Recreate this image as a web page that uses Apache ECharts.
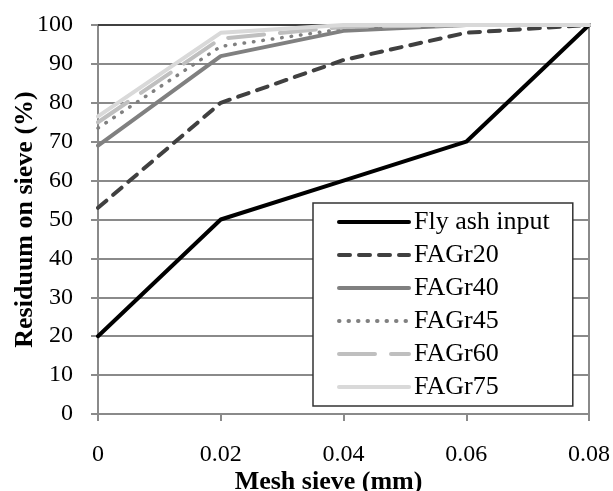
<!DOCTYPE html>
<html>
<head>
<meta charset="utf-8">
<script src="https://cdn.jsdelivr.net/npm/echarts@6/dist/echarts.min.js"></script>
<style>
  html, body { margin: 0; padding: 0; background: #fff; }
  #main { width: 613px; height: 491px; }
</style>
</head>
<body>
<div id="main"></div>
<script>
// mesh sieve sizes (mm)
const meshSizes = [0, 0.02, 0.04, 0.06, 0.08]
const xTickLabels = ['0', '0.02', '0.04', '0.06', '0.08']

// residuum on sieve (%)
const flyAshInput = [20, 50, 60, 70, 100]
const fagr20 = [53, 80, 91, 98, 100]
const fagr40 = [69, 92, 98.5, 100, 100]
const fagr45 = [73.5, 94.5, 99, 100, 100]
const fagr60 = [75, 96.5, 99.5, 100, 100]
const fagr75 = [76.5, 98, 100, 100, 100]

const seriesNames = ['Fly ash input', 'FAGr20', 'FAGr40', 'FAGr45', 'FAGr60', 'FAGr75']

const font = "'Liberation Serif', 'Times New Roman', serif"

function pairs (values) {
  const out = []
  for (let i = 0; i < meshSizes.length; i++) {
    out.push([meshSizes[i], values[i]])
  }
  return out
}

function lineSeries (name, values, color, width, type) {
  return {
    name: name,
    type: 'line',
    data: pairs(values),
    symbol: 'none',
    showSymbol: false,
    lineStyle: { color: color, width: width, type: type, cap: 'round', join: 'round' },
    itemStyle: { color: color }
  }
}

const chart = echarts.init(document.getElementById('main'))
const option = {
  animation: false,
  grid: {
    left: 98,
    right: 24,
    top: 25,
    bottom: 77,
    outerBoundsMode: 'none',
    show: true,
    borderColor: '#8a8a8a',
    borderWidth: 2
  },
  legend: {
    data: seriesNames,
    orient: 'vertical',
    left: 313,
    top: 203,
    itemWidth: 70,
    itemHeight: 14,
    itemGap: 7,
    padding: [6, 23, 6, 24],
    backgroundColor: '#fff',
    borderColor: '#333',
    borderWidth: 1.5,
    itemStyle: { color: 'rgba(0,0,0,0)', borderWidth: 0 },
    lineStyle: { width: 4 },
    textStyle: { fontFamily: font, fontSize: 26, color: '#000' }
  },
  xAxis: [
    {
      type: 'value',
      min: 0,
      max: 0.08,
      interval: 0.02,
      name: 'Mesh sieve (mm)',
      nameLocation: 'middle',
      nameGap: 55,
      nameMoveOverlap: false,
      nameTextStyle: { fontFamily: font, fontSize: 26, fontWeight: 'bold', color: '#000', padding: [0, 30, 0, 0] },
      axisLine: { show: true, lineStyle: { color: '#8a8a8a', width: 2 } },
      axisTick: { show: true, length: 7, lineStyle: { color: '#8a8a8a', width: 2 } },
      axisLabel: {
        margin: 29,
        fontFamily: font,
        fontSize: 24,
        color: '#000',
        formatter: function (v) { return xTickLabels[Math.round(v / 0.02)] }
      },
      splitLine: { show: false }
    },
    {
      type: 'value',
      position: 'top',
      min: 0,
      max: 0.08,
      axisLine: { show: true, lineStyle: { color: '#404040', width: 2 } },
      axisTick: { show: false },
      axisLabel: { show: false },
      splitLine: { show: false }
    }
  ],
  yAxis: {
    type: 'value',
    min: 0,
    max: 100,
    interval: 10,
    name: 'Residuum on sieve (%)',
    nameLocation: 'middle',
    nameGap: 60,
    nameMoveOverlap: false,
    nameTextStyle: { fontFamily: font, fontSize: 26, fontWeight: 'bold', color: '#000' },
    axisLine: { show: true, lineStyle: { color: '#8a8a8a', width: 2 } },
    axisTick: { show: true, length: 7, lineStyle: { color: '#8a8a8a', width: 2 } },
    axisLabel: { margin: 25, fontFamily: font, fontSize: 24, color: '#000' },
    splitLine: { show: true, lineStyle: { color: '#8a8a8a', width: 2 } }
  },
  series: [
    lineSeries(seriesNames[0], flyAshInput, '#000000', 4, 'solid'),
    lineSeries(seriesNames[1], fagr20, '#404040', 4, [11, 9]),
    lineSeries(seriesNames[2], fagr40, '#808080', 4, 'solid'),
    lineSeries(seriesNames[3], fagr45, '#808080', 3.5, [0.5, 9]),
    lineSeries(seriesNames[4], fagr60, '#bfbfbf', 4, [36, 16]),
    lineSeries(seriesNames[5], fagr75, '#d9d9d9', 4, 'solid')
  ]
}
chart.setOption(option)
</script>
</body>
</html>
